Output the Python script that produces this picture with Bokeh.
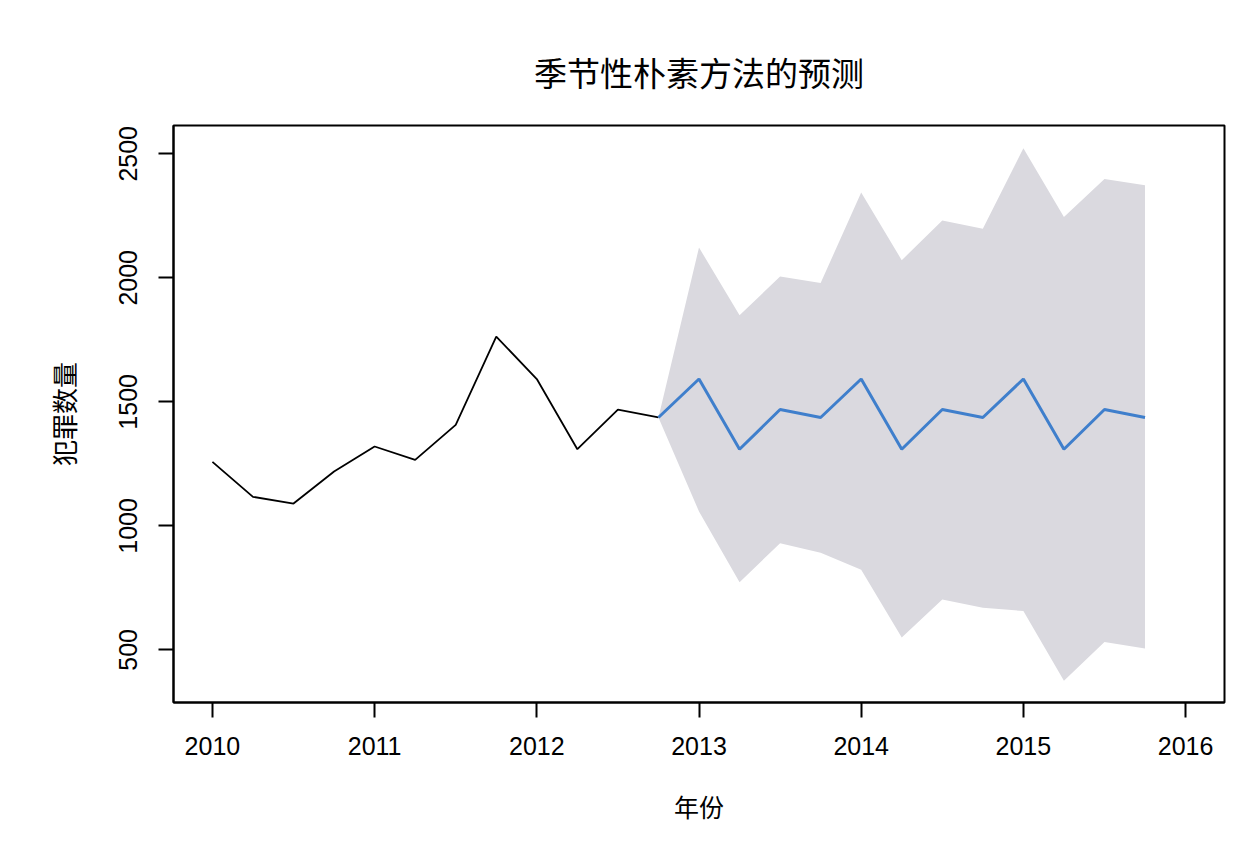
from bokeh.plotting import figure
from bokeh.models import FixedTicker, Range1d
from bokeh.embed import file_html
from bokeh.resources import INLINE

# observed quarterly crime counts
obs_t = [2010.0, 2010.25, 2010.5, 2010.75, 2011.0, 2011.25,
         2011.5, 2011.75, 2012.0, 2012.25, 2012.5, 2012.75]
obs = [1258, 1117, 1090, 1219, 1320, 1266, 1407, 1763, 1592, 1309, 1469, 1437]

# seasonal naive forecast with 95% interval
fc_t = [2013.0, 2013.25, 2013.5, 2013.75, 2014.0, 2014.25,
        2014.5, 2014.75, 2015.0, 2015.25, 2015.5, 2015.75]
fc_mean = [1592, 1309, 1469, 1437, 1592, 1309, 1469, 1437, 1592, 1309, 1469, 1437]
fc_lo = [1058, 773, 930, 892, 823, 550, 703, 670, 657, 376, 532, 506]
fc_hi = [2122, 1849, 2005, 1979, 2344, 2071, 2231, 2198, 2522, 2245, 2398, 2373]

x_ticks = [2010, 2011, 2012, 2013, 2014, 2015, 2016]
y_ticks = [500, 1000, 1500, 2000, 2500]

cjk = "Noto Sans CJK SC"
latin = "Liberation Sans"

p = figure(width=1252, height=840,
           x_range=Range1d(2009.76, 2016.24), y_range=Range1d(288, 2614),
           title="季节性朴素方法的预测",
           output_backend="svg", toolbar_location=None,
           min_border_left=173, min_border_right=28,
           min_border_top=125, min_border_bottom=138)

p.title.text_font = cjk
p.title.text_font_size = "33px"
p.title.text_font_style = "normal"
p.title.text_color = "black"
p.title.align = "center"
p.title.standoff = 59

p.xgrid.visible = False
p.ygrid.visible = False
p.outline_line_color = "black"
p.outline_line_width = 2
p.outline_line_alpha = 1.0

# forecast band starts at the last observation
band_t = [obs_t[-1]] + fc_t
band_lo = [obs[-1]] + fc_lo
band_hi = [obs[-1]] + fc_hi
p.varea(x=band_t, y1=band_lo, y2=band_hi, fill_color="#dad9df")

p.line(obs_t, obs, line_color="black", line_width=1.8)
p.line([obs_t[-1]] + fc_t, [obs[-1]] + fc_mean, line_color="#3f7fcc", line_width=3)

p.xaxis.ticker = FixedTicker(ticks=x_ticks)
p.yaxis.ticker = FixedTicker(ticks=y_ticks)
p.xaxis.axis_label = "年份"
p.yaxis.axis_label = "犯罪数量"
p.yaxis.major_label_orientation = "vertical"

for ax in (p.xaxis, p.yaxis):
    ax.axis_line_color = "black"
    ax.axis_line_width = 2
    ax.major_tick_line_color = "black"
    ax.major_tick_line_width = 2
    ax.major_tick_out = 15
    ax.major_tick_in = 0
    ax.minor_tick_line_color = None
    ax.major_label_text_font = latin
    ax.major_label_text_font_size = "25px"
    ax.major_label_text_color = "black"
    ax.axis_label_text_font = cjk
    ax.axis_label_text_font_style = "normal"
    ax.axis_label_text_color = "black"

p.xaxis.axis_label_text_font_size = "25px"
p.yaxis.axis_label_text_font_size = "26px"
p.xaxis.major_label_standoff = 19
p.yaxis.major_label_standoff = 21
p.xaxis.axis_label_standoff = 30
p.yaxis.axis_label_standoff = 35

open("out.html", "w").write(file_html(p, INLINE))
